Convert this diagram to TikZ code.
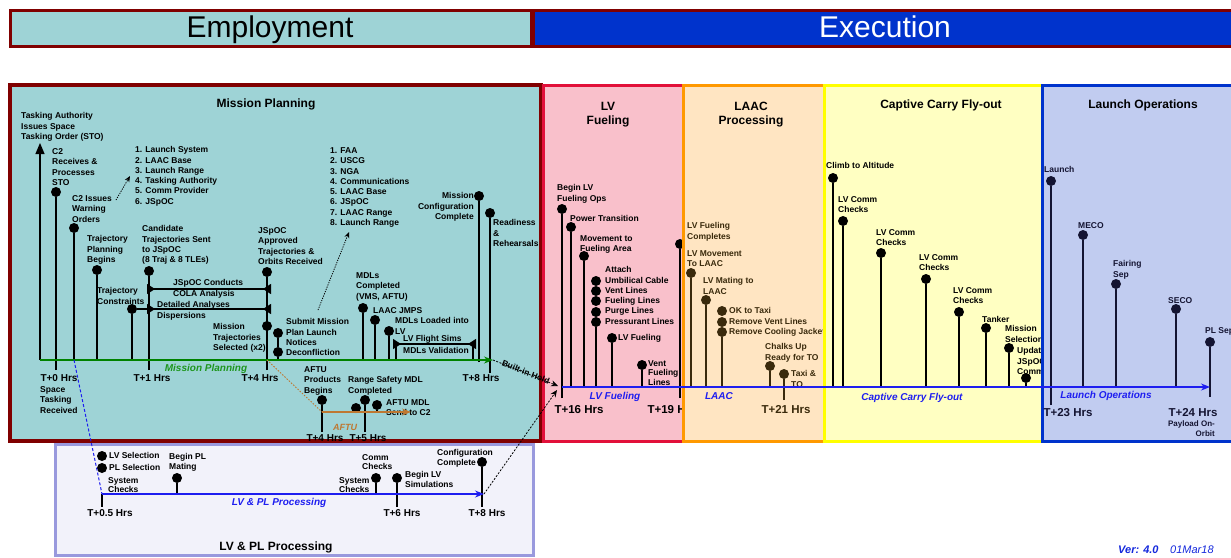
\documentclass[tikz,border=0pt]{standalone}
\usepackage{fontspec}
\setmainfont{Liberation Sans}
\usetikzlibrary{arrows.meta}

\definecolor{mpfill}{RGB}{158,211,214}
\definecolor{mpedge}{RGB}{128,0,0}
\definecolor{exfill}{RGB}{0,51,204}
\definecolor{fuelfill}{RGB}{249,192,203}
\definecolor{fueledge}{RGB}{226,16,58}
\definecolor{laacfill}{RGB}{255,229,194}
\definecolor{laacedge}{RGB}{255,153,0}
\definecolor{ccfill}{RGB}{255,255,194}
\definecolor{ccedge}{RGB}{255,255,0}
\definecolor{lofill}{RGB}{193,204,240}
\definecolor{loedge}{RGB}{0,51,204}
\definecolor{lpfill}{RGB}{242,242,250}
\definecolor{lpedge}{RGB}{153,153,221}
\definecolor{tlgreen}{RGB}{0,130,0}
\definecolor{tlgreentxt}{RGB}{30,150,30}
\definecolor{tlblue}{RGB}{30,30,240}
\definecolor{aftuink}{RGB}{190,120,50}
\definecolor{laacink}{RGB}{58,42,12}
\definecolor{loink}{RGB}{20,20,50}
\definecolor{verblue}{RGB}{20,40,220}

% a milestone: dot plus a stem down to its time line
\newcommand\tpin[5]{%
  \node[pindot,fill=#5] (#1) at (#2,#3) {};
  \coordinate (#1-foot) at (#2,#4);
  \draw[stemln,draw=#5] (#1-foot) -- (#1);
}

\begin{document}
\begin{tikzpicture}[x=1pt,y=-1pt,
  lbl/.style={font=\fontsize{8.5}{10.3}\selectfont\bfseries, align=left, inner sep=0pt, anchor=north west, yshift=3.6pt},
  lblr/.style={lbl, align=right, anchor=north east},
  lblp/.style={lbl, font=\fontsize{8.5}{9.4}\selectfont\bfseries},
  ttl/.style={font=\fontsize{12}{14}\selectfont\bfseries, align=center, inner sep=0pt, anchor=north, yshift=4.6pt},
  hdr/.style={font=\fontsize{30}{34}\selectfont, inner sep=0pt, anchor=base},
  ticklbl/.style={font=\fontsize{10}{12}\selectfont\bfseries, inner sep=0pt},
  xticklbl/.style={font=\fontsize{11.5}{13}\selectfont\bfseries, inner sep=0pt},
  tlname/.style={font=\fontsize{10}{12}\selectfont\bfseries\itshape, inner sep=0pt, anchor=base},
  pindot/.style={circle, inner sep=0pt, minimum size=10pt},
  stemln/.style={line width=1.2pt},
  panel/.style={line width=3pt},
  dotarrow/.style={line width=0.8pt, dash pattern=on 1.2pt off 1.2pt, -{Stealth[length=6pt,width=5pt]}},
  bars/.style={stemln, {Triangle[reversed,length=8pt,width=10pt]}-{Triangle[reversed,length=8pt,width=10pt]}}
]
\useasboundingbox (0,0) rectangle (1231,557);
\clip (0,0) rectangle (1231,557);

% ---------------- phase headers ----------------
\draw[panel,draw=mpedge,fill=mpfill] (10,10) rectangle (531,46);
\node[hdr] (hdr-emp) at (270,37.5) {Employment};
\draw[panel,draw=mpedge,fill=exfill] (533,10) rectangle (1240,46);
\node[hdr,text=white] (hdr-exe) at (885,37.5) {Execution};

% ---------------- Mission Planning ----------------
\draw[panel,line width=3.5pt,draw=mpedge,fill=mpfill] (10,85) rectangle (541,441);
\node[ttl] (mp-title) at (266,103) {Mission Planning};

\node[lbl] (sto-txt) at (21,116) {Tasking Authority\\Issues Space\\Tasking Order (STO)};
\coordinate (sto-base) at (40,360);
\coordinate (sto-tip) at (40,143);
\draw[stemln,-{Triangle[width=9pt,length=11pt]}] (sto-base) -- (sto-tip);

\node[lbl] (c2r-txt) at (52,152) {C2\\Receives \&\\Processes\\STO};
\tpin{c2r}{56}{192}{370}{black}
\node[lbl] (c2w-txt) at (72,199) {C2 Issues\\Warning\\Orders};
\tpin{c2w}{74}{228}{360}{black}
\coordinate (dw-a) at (116,200);
\coordinate (dw-b) at (130,176);
\draw[dotarrow] (dw-a) -- (dw-b);
\node[lbl] (list1) at (135,150) {1. Launch System\\2. LAAC Base\\3. Launch Range\\4. Tasking Authority\\5. Comm Provider\\6. JSpOC};

\node[lbl] (tpb-txt) at (87,239) {Trajectory\\Planning\\Begins};
\tpin{tpb}{97}{270}{360}{black}
\node[lbl] (cand-txt) at (142,229) {Candidate\\Trajectories Sent\\to JSpOC\\(8 Traj \& 8 TLEs)};
\tpin{cand}{149}{271}{370}{black}
\node[lbl] (tcon-txt) at (97,291) {Trajectory\\Constraints};
\tpin{tcon}{132}{309}{360}{black}
\node[lbl] (jap-txt) at (258,231) {JSpOC\\Approved\\Trajectories \&\\Orbits Received};
\tpin{jap}{267}{272}{370}{black}

\coordinate (cola-l) at (147,289);
\coordinate (cola-r) at (271,289);
\draw[bars] (cola-l) -- (cola-r);
\node[lbl] (cola-txt) at (173,283) {JSpOC Conducts\\COLA Analysis};

\coordinate (det-l) at (147,309);
\coordinate (det-r) at (271,309);
\draw[stemln] (tcon) -- (det-l);
\draw[bars] (det-l) -- (det-r);
\node[lbl] (det-txt) at (157,305) {Detailed Analyses\\Dispersions};

\node[lbl] (mts-txt) at (213,327) {Mission\\Trajectories\\Selected (x2)};
\node[pindot,fill=black] (mts) at (267,326) {};

\node[lbl] (smp-txt) at (286,322) {Submit Mission\\Plan Launch\\Notices\\Deconfliction};
\tpin{smp2}{278}{352}{360}{black}
\node[pindot,fill=black] (smp1) at (278,333) {};
\draw[stemln] (smp1) -- (smp2);
\coordinate (ds-a) at (318,310);
\coordinate (ds-b) at (349,232);
\draw[dotarrow] (ds-a) -- (ds-b);
\node[lbl] (list2) at (330,151) {1. FAA\\2. USCG\\3. NGA\\4. Communications\\5. LAAC Base\\6. JSpOC\\7. LAAC Range\\8. Launch Range};

\node[lbl] (mdlc-txt) at (356,276) {MDLs\\Completed\\(VMS, AFTU)};
\tpin{mdlc}{363}{308}{360}{black}
\node[lbl] (jmps-txt) at (373,311) {LAAC JMPS};
\tpin{jmps}{375}{320}{360}{black}
\node[lbl] (mdll-txt) at (395,321) {MDLs Loaded into\\LV};
\tpin{mdll}{389}{331}{360}{black}

\coordinate (lvfs-l) at (393,344);
\coordinate (lvfs-r) at (476,344);
\draw[bars] (lvfs-l) -- (lvfs-r);
\coordinate (lvfs-a) at (396,344);
\coordinate (lvfs-a-foot) at (396,360);
\coordinate (lvfs-b) at (473,344);
\coordinate (lvfs-b-foot) at (473,360);
\draw[stemln] (lvfs-a) -- (lvfs-a-foot);
\draw[stemln] (lvfs-b) -- (lvfs-b-foot);
\node[lbl] (lvfs-txt) at (403,339) {LV Flight Sims\\[1.5pt]MDLs Validation};

\node[lblr] (mcc-txt) at (474,196) {Mission\\Configuration\\Complete};
\tpin{mcc}{479}{196}{362}{black}
\node[lbl] (rr-txt) at (493,223) {Readiness\\\&\\Rehearsals};
\tpin{rr}{490}{213}{373}{black}

% mission planning time line
\coordinate (mp-t0) at (40,360);
\coordinate (mp-end) at (493,360);
\draw[line width=1.3pt,draw=tlgreen,-{Stealth[length=9pt,width=7pt]}] (mp-t0) -- (mp-end);
\node[tlname,text=tlgreentxt] (mp-name) at (206,371) {Mission Planning};
\node[ticklbl] (t0) at (59,378) {T+0 Hrs};
\node[ticklbl] (t1) at (152,378) {T+1 Hrs};
\node[ticklbl] (t4) at (260,378) {T+4 Hrs};
\node[ticklbl] (t8) at (481,378) {T+8 Hrs};
\node[lbl] (str-txt) at (40,390) {Space\\Tasking\\Received};

% AFTU branch
\node[lbl] (aftu-txt) at (304,370) {AFTU\\Products\\Begins};
\tpin{aftu}{322}{400}{432}{black}
\node[lbl] (rsm-txt) at (348,380) {Range Safety MDL\\Completed};
\tpin{rsm}{365}{400}{432}{black}
\tpin{rsm2}{356}{408}{412}{black}
\node[lbl] (amdl-txt) at (386,403) {AFTU MDL\\Send to C2};
\tpin{amdl}{377}{405}{412}{black}
\coordinate (aftu-a) at (267,360);
\coordinate (aftu-b) at (322,412);
\coordinate (aftu-c) at (411,412);
\draw[aftuink,line width=0.9pt,dash pattern=on 1.5pt off 1.5pt] (aftu-a) -- (aftu-b);
\draw[aftuink,line width=1.3pt,-{Stealth[length=9pt,width=7pt]}] (aftu-b) -- (aftu-c);
\node[tlname,text=aftuink,font=\fontsize{9}{11}\selectfont\bfseries\itshape] (aftu-name) at (345,430) {AFTU};
\node[ticklbl] (t4b) at (325,438) {T+4 Hrs};
\node[ticklbl] (t5b) at (368,438) {T+5 Hrs};

% ---------------- LV Fueling ----------------
\draw[panel,draw=fueledge,fill=fuelfill] (543,85) rectangle (683,441);
\node[ttl] (fu-title) at (608,107) {LV\\Fueling};
\node[lbl] (blf-txt) at (557,188) {Begin LV\\Fueling Ops};
\tpin{blf}{562}{209}{398}{black}
\node[lbl] (pt-txt) at (570,219) {Power Transition};
\tpin{pt}{571}{227}{387}{black}
\node[lbl] (mfa-txt) at (580,239) {Movement to\\Fueling Area};
\tpin{mfa}{584}{256}{387}{black}
\node[lbl] (att-txt) at (605,270) {Attach\\Umbilical Cable\\Vent Lines\\Fueling Lines\\Purge Lines\\Pressurant Lines};
\node[pindot,fill=black] (att1) at (596,281) {};
\node[pindot,fill=black] (att2) at (596,291) {};
\node[pindot,fill=black] (att3) at (596,301) {};
\node[pindot,fill=black] (att4) at (596,312) {};
\tpin{att5}{596}{322}{387}{black}
\node[lbl] (lvf-txt) at (618,338) {LV Fueling};
\tpin{lvf}{612}{338}{387}{black}
\node[lbl,font=\fontsize{8.5}{9.3}\selectfont\bfseries] (vfl-txt) at (648,364) {Vent\\Fueling\\Lines};
\tpin{vfl}{642}{365}{387}{black}
\tpin{lvfc}{680}{244}{398}{black}
\node[xticklbl] (t16) at (579,410) {T+16 Hrs};
\node[xticklbl] (t19) at (672,410) {T+19 Hrs};

% ---------------- LAAC Processing ----------------
\draw[panel,draw=laacedge,fill=laacfill] (683,85) rectangle (824,441);
\node[ttl] (la-title) at (751,107) {LAAC\\Processing};
\node[lbl,text=laacink] (lvfc-txt) at (687,226) {LV Fueling\\Completes};
\node[lbl,text=laacink] (lvm-txt) at (687,254) {LV Movement\\To LAAC};
\tpin{lvm}{691}{273}{387}{laacink}
\node[lbl,text=laacink] (lvmt-txt) at (703,281) {LV Mating to\\LAAC};
\tpin{lvmt}{706}{300}{387}{laacink}
\node[lbl,text=laacink] (okt-txt) at (729,311) {OK to Taxi\\Remove Vent Lines\\Remove Cooling Jacket};
\node[pindot,fill=laacink] (okt1) at (722,311) {};
\node[pindot,fill=laacink] (okt2) at (722,322) {};
\tpin{okt3}{722}{332}{387}{laacink}
\node[lbl,text=laacink] (chk-txt) at (765,347) {Chalks Up\\Ready for TO};
\tpin{chk}{770}{366}{387}{laacink}
\node[lbl,text=laacink] (tto-txt) at (791,374) {Taxi \&\\TO};
\tpin{tto}{784}{374}{400}{laacink}
\node[xticklbl,text=laacink] (t21) at (786,410) {T+21 Hrs};

% ---------------- Captive Carry Fly-out ----------------
\draw[panel,draw=ccedge,fill=ccfill] (824,85) rectangle (1042,441);
\node[ttl] (cc-title) at (941,104) {Captive Carry Fly-out};
\node[lbl] (cta-txt) at (826,166) {Climb to Altitude};
\tpin{cta}{833}{178}{387}{black}
\node[lbl] (cc1-txt) at (838,200) {LV Comm\\Checks};
\tpin{cc1}{843}{221}{387}{black}
\node[lbl] (cc2-txt) at (876,233) {LV Comm\\Checks};
\tpin{cc2}{881}{253}{387}{black}
\node[lbl] (cc3-txt) at (919,258) {LV Comm\\Checks};
\tpin{cc3}{926}{279}{387}{black}
\node[lbl] (cc4-txt) at (953,291) {LV Comm\\Checks};
\tpin{cc4}{959}{312}{387}{black}
\node[lbl] (tnk-txt) at (982,320) {Tanker};
\tpin{tnk}{986}{328}{387}{black}
\node[lbl] (msel-txt) at (1005,329) {Mission\\Selection};
\tpin{msel}{1009}{348}{387}{black}
\node[lbl] (upd-txt) at (1017,351) {Update\\JSpOC,\\Comm};
\tpin{upd}{1026}{378}{387}{black}

% ---------------- Launch Operations ----------------
\draw[panel,draw=loedge,fill=lofill] (1042,85) rectangle (1240,441);
\node[ttl] (lo-title) at (1143,104) {Launch Operations};
\node[lbl,text=loink] (lch-txt) at (1044,170) {Launch};
\tpin{lch}{1051}{181}{405}{loink}
\node[lbl,text=loink] (meco-txt) at (1078,226) {MECO};
\tpin{meco}{1083}{235}{387}{loink}
\node[lbl,text=loink] (fs-txt) at (1113,264) {Fairing\\Sep};
\tpin{fs}{1116}{284}{387}{loink}
\node[lbl,text=loink] (seco-txt) at (1168,301) {SECO};
\tpin{seco}{1176}{309}{387}{loink}
\node[lbl,text=loink] (pls-txt) at (1205,331) {PL Sep};
\tpin{pls}{1210}{342}{397}{loink}
\node[xticklbl,text=loink] (t23) at (1068,413) {T+23 Hrs};
\node[xticklbl,text=loink] (t24) at (1193,413) {T+24 Hrs};
\node[lblr,text=loink,font=\fontsize{8}{10}\selectfont\bfseries] (pay-txt) at (1215,424) {Payload On-\\Orbit};

% execution time line
\coordinate (ex-start) at (562,387);
\coordinate (ex-end) at (1210,387);
\draw[line width=1.2pt,draw=tlblue,-{Stealth[length=9pt,width=7pt]}] (ex-start) -- (ex-end);
\node[tlname,text=tlblue] (fu-name) at (615,399.6) {LV Fueling};
\node[tlname,text=tlblue] (la-name) at (719,399.6) {LAAC};
\node[tlname,text=tlblue] (cc-name) at (912,400.6) {Captive Carry Fly-out};
\node[tlname,text=tlblue] (lo-name) at (1106,398.6) {Launch Operations};

% ---------------- LV & PL Processing ----------------
\draw[panel,draw=lpedge,fill=lpfill] (55,444) rectangle (533,555);
\node[font=\fontsize{12}{14}\selectfont\bfseries, inner sep=0pt, anchor=base] (lp-title) at (276,550) {LV \& PL Processing};
\node[pindot,fill=black] (lvs) at (102,456) {};
\node[lblp] (lvs-txt) at (109,456) {LV Selection};
\node[pindot,fill=black] (plsel) at (102,468) {};
\node[lblp] (plsel-txt) at (109,468) {PL Selection};
\node[lblp] (sys1-txt) at (108,481) {System\\Checks};
\node[lblp] (bpm-txt) at (169,457) {Begin PL\\Mating};
\tpin{bpm}{177}{478}{494}{black}
\node[lblp] (cmc-txt) at (362,458) {Comm\\Checks};
\node[lblp] (sys2-txt) at (339,481) {System\\Checks};
\tpin{cmc}{376}{478}{494}{black}
\node[lblp] (blvs-txt) at (405,475) {Begin LV\\Simulations};
\tpin{blvs}{397}{478}{507}{black}
\node[lblp] (cfg-txt) at (437,453) {Configuration\\Complete};
\tpin{cfg}{482}{462}{507}{black}
\coordinate (lp-t0) at (102,494);
\coordinate (lp-t0-foot) at (102,507);
\coordinate (lp-end) at (484,494);
\draw[stemln] (lp-t0) -- (lp-t0-foot);
\draw[line width=1.2pt,draw=tlblue,-{Stealth[length=9pt,width=7pt]}] (lp-t0) -- (lp-end);
\node[tlname,text=tlblue] (lp-name) at (279,505.6) {LV \& PL Processing};
\node[ticklbl] (t05) at (110,513) {T+0.5 Hrs};
\node[ticklbl] (t6p) at (402,513) {T+6 Hrs};
\node[ticklbl] (t8p) at (487,513) {T+8 Hrs};

% ---------------- hand-offs between phases ----------------
\draw[tlblue,line width=1pt,dash pattern=on 3pt off 2pt] (c2w-foot) -- (lp-t0);
\coordinate (fu-in1) at (558,386);
\coordinate (fu-in2) at (557,390);
\draw[line width=0.8pt,dash pattern=on 2pt off 1.5pt,-{Stealth[length=7pt,width=6pt]}] (mp-end) -- node[sloped,inner sep=0pt,yshift=1pt,font=\fontsize{8.5}{10}\selectfont\bfseries] (hold-txt) {Built-in Hold} (fu-in1);
\draw[line width=0.8pt,dash pattern=on 2pt off 1.5pt,-{Stealth[length=7pt,width=6pt]}] (lp-end) -- (fu-in2);

% version stamp
\node[anchor=base west,inner sep=0pt,text=verblue,font=\fontsize{11}{13}\selectfont\bfseries\itshape] (ver) at (1118,553) {Ver: 4.0};
\node[anchor=base west,inner sep=0pt,text=verblue,font=\fontsize{11}{13}\selectfont\itshape] (ver-date) at (1170,553) {01Mar18};
\end{tikzpicture}
\end{document}
